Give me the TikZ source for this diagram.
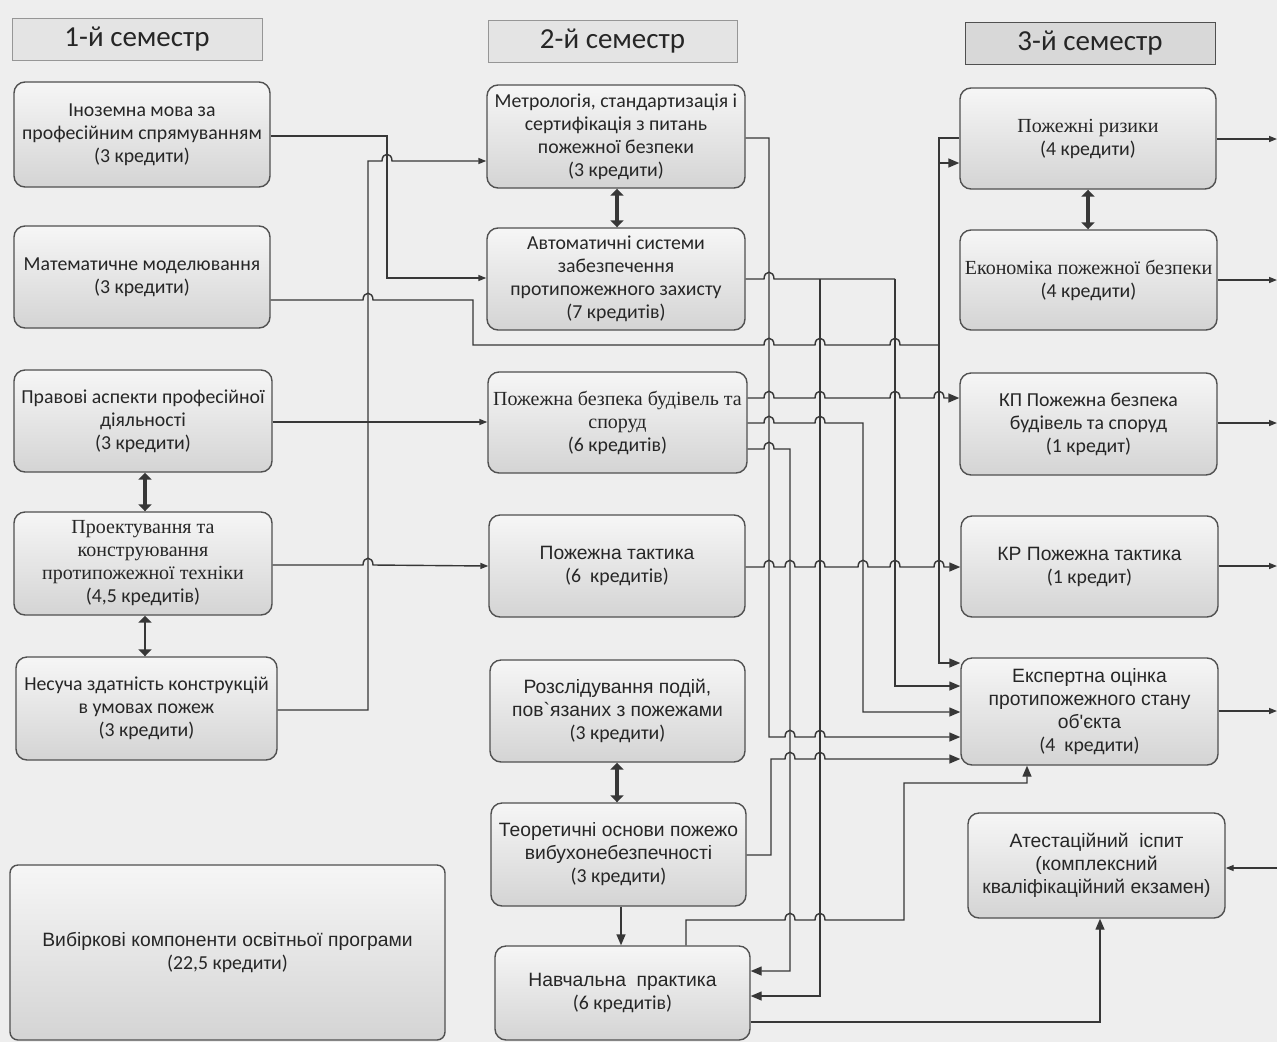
\documentclass[tikz,border=0pt]{standalone}
\usepackage{fontspec}
\setmainfont{Carlito}
\newfontfamily\tnr{Liberation Serif}
\newfontfamily\ari{Liberation Sans}
\usetikzlibrary{arrows.meta}
\definecolor{bg}{RGB}{238,238,238}
\definecolor{ink}{RGB}{55,55,55}
\definecolor{bord}{RGB}{80,80,80}
\definecolor{topc}{RGB}{246,246,246}
\definecolor{botc}{RGB}{212,212,212}
\definecolor{hdr}{RGB}{228,228,228}
\definecolor{hdrb}{RGB}{150,150,150}
\definecolor{hdrc}{RGB}{216,216,216}
\newcommand\TmF{\tnr\fontsize{20}{23}\selectfont}
\newcommand\ArF{\ari\fontsize{19.3}{23}\selectfont}
\newcommand\bx[7]{\node[#6, minimum width={#4-#2}, minimum height={#5-#3}] (#1) at ({(#2+#4)/2},{(#3+#5)/2}) {#7};}
\tikzset{
  boxst/.style={draw=bord, line width=1.4pt, rounded corners=11pt, top color=topc, bottom color=botc, align=center, inner sep=2pt, font=\fontsize{19.8}{23}\selectfont, text=black!85},
  hdrst/.style={draw=hdrb, line width=1pt, fill=hdr, font=\fontsize{29}{32}\selectfont, text=black!85},
  ln/.style={draw=ink, line width=1.4pt},
  ar/.style={-{Triangle[length=11pt,width=9pt]}},
  ars/.style={-{Triangle[length=8pt,width=6pt]}},
  arL/.style={-{Triangle[length=11pt,width=9pt]}},
  dbl/.style={draw=ink, line width=3.5pt, {Triangle[length=7pt,width=13pt]}-{Triangle[length=7pt,width=13pt]}},
  hop/.style args={#1/#2}{insert path={-- (#1-5,#2) .. controls (#1-5,#2-9) and (#1+5,#2-9) .. (#1+5,#2)}}
}
\begin{document}
\begin{tikzpicture}[x=1pt,y=-1pt]
\useasboundingbox (0,0) rectangle (1277,1042);
\fill[bg] (0,0) rectangle (1277,1042);
% headers
\bx{h1}{12}{18}{262}{60}{hdrst}{1-й семестр}
\bx{h2}{488}{20}{737}{62}{hdrst}{2-й семестр}
\bx{h3}{965}{22}{1215}{64}{hdrst,fill=hdrc,draw=bord}{3-й семестр}
% column 1
\bx{a1}{14}{82}{270}{187}{boxst}{Іноземна мова за\\ професійним спрямуванням\\ (3 кредити)}
\bx{a2}{14}{226}{270}{328}{boxst}{Математичне моделювання\\ (3 кредити)}
\bx{a3}{14}{370}{272}{472}{boxst}{Правові аспекти професійної\\ діяльності\\ (3 кредити)}
\bx{a4}{14}{512}{272}{615}{boxst}{{\TmF Проектування та}\\ {\TmF конструювання}\\ {\TmF протипожежної техніки}\\ (4,5 кредитів)}
\bx{a5}{16}{657}{277}{760}{boxst}{Несуча здатність конструкцій\\ в умовах пожеж\\ (3 кредити)}
\bx{a6}{10}{865}{445}{1040}{boxst,rounded corners=8pt}{{\ArF Вибіркові компоненти освітньої програми}\\ (22,5 кредити)}
% column 2
\bx{b1}{487}{85}{745}{188}{boxst}{Метрологія, стандартизація і\\ сертифікація з питань\\ пожежної безпеки\\ (3 кредити)}
\bx{b2}{487}{228}{745}{330}{boxst}{Автоматичні системи\\ забезпечення\\ протипожежного захисту\\ (7 кредитів)}
\bx{b3}{488}{372}{747}{473}{boxst}{{\TmF Пожежна безпека будівель та}\\ {\TmF споруд}\\ (6 кредитів)}
\bx{b4}{489}{515}{745}{617}{boxst}{{\ArF Пожежна тактика}\\ (6\ \ кредитів)}
\bx{b5}{490}{660}{745}{762}{boxst}{{\ArF Розслідування подій,}\\ {\ArF пов`язаних з пожежами}\\ (3 кредити)}
\bx{b6}{491}{803}{746}{906}{boxst}{{\ArF Теоретичні основи пожежо}\\ {\ArF вибухонебезпечності}\\ (3 кредити)}
\bx{b7}{495}{946}{750}{1040}{boxst}{{\ArF Навчальна\ \ практика}\\ (6 кредитів)}
% column 3
\bx{c1}{960}{88}{1216}{189}{boxst}{{\TmF Пожежні ризики}\\ (4 кредити)}
\bx{c2}{960}{230}{1217}{330}{boxst}{{\TmF Економіка пожежної безпеки}\\ (4 кредити)}
\bx{c3}{960}{373}{1217}{475}{boxst}{КП Пожежна безпека\\ будівель та споруд\\ (1 кредит)}
\bx{c4}{961}{516}{1218}{617}{boxst}{{\ArF КР Пожежна тактика}\\ (1 кредит)}
\bx{c5}{961}{658}{1218}{765}{boxst}{{\ArF Експертна оцінка}\\ {\ArF протипожежного стану}\\ {\ArF об'єкта}\\ (4\ \ кредити)}
\bx{c6}{968}{813}{1225}{918}{boxst}{{\ArF Атестаційний\ \ іспит}\\ {\ArF (комплексний}\\ {\ArF кваліфікаційний екзамен)}}
% junctions and free ends
\coordinate (j1) at (939,345);
\coordinate (r1) at (1277,139);
\coordinate (r2) at (1277,280);
\coordinate (r3) at (1277,423);
\coordinate (r4) at (1277,566);
\coordinate (r5) at (1277,711);
\coordinate (r6) at (1277,868);
% column 1 -> column 2
\draw[ln,ars] (a1.east |- 0,136) -- (387,136) -- (387,278) -- (b2.west |- 0,278);
\draw[ln,ars] (a5.east |- 0,710) -- (368,710) -- (368,161) [hop=387/161] -- (b1.west |- 0,161);
\draw[ln] (a2.east |- 0,300) [hop=368/300] -- (473,300) -- (473,345) [hop=769/345] [hop=820/345] [hop=895/345] -- (j1);
\draw[ln,ars] (a3.east |- 0,422) -- (b3.west |- 0,422);
\draw[ln,ars] (a4.east |- 0,565) [hop=368/565] -- (b4.west |- 0,566);
% to Пожежні ризики and Експертна
\draw[ln] (c1.west |- 0,138) -- (939,138) -- (j1);
\draw[ln,ar] (j1) -- (939,163) -- (c1.west |- 0,163);
\draw[ln,ar] (j1) -- (939,663) -- (c5.west |- 0,663);
% Метрологія
\draw[ln,ar] (b1.east |- 0,138) -- (769,138) -- (769,737) [hop=790/737] [hop=820/737] -- (c5.west |- 0,737);
% Автоматичні
\draw[ln] (b2.east |- 0,279) [hop=769/279] -- (895,279);
\draw[ln,arL] (820,279) -- (820,996) -- (b7.east |- 0,996);
\draw[ln,ar] (895,279) -- (895,686) -- (c5.west |- 0,686);
% Пожежна безпека будівель
\draw[ln,ar] (b3.east |- 0,398) [hop=769/398] [hop=820/398] [hop=895/398] [hop=939/398] -- (c3.west |- 0,398);
\draw[ln,ar] (b3.east |- 0,423) [hop=769/423] [hop=820/423] -- (863,423) -- (863,712) -- (c5.west |- 0,712);
\draw[ln,arL] (b3.east |- 0,449) [hop=769/449] -- (790,449) -- (790,971) -- (b7.east |- 0,971);
% Пожежна тактика
\draw[ln,ar] (b4.east |- 0,567) [hop=769/567] [hop=790/567] [hop=820/567] [hop=863/567] [hop=895/567] [hop=939/567] -- (c4.west |- 0,567);
% Теоретичні
\draw[ln,ar] (b6.east |- 0,855) -- (771,855) -- (771,759) [hop=790/759] [hop=820/759] -- (c5.west |- 0,759);
\draw[ln,ar] (b6.south -| 621,0) -- (b7.north -| 621,0);
% Навчальна практика
\draw[ln,ar] (b7.north -| 686,0) -- (686,920) [hop=790/920] [hop=820/920] -- (904,920) -- (904,783) -- (1027,783) -- (c5.south -| 1027,0);
\draw[ln,ar] (b7.east |- 0,1022) -- (1100,1022) -- (c6.south -| 1100,0);
% double arrows
\draw[dbl] (a3.south -| 145,0) -- (a4.north -| 145,0);
\draw[dbl,line width=2.5pt] (a4.south -| 145,0) -- (a5.north -| 145,0);
\draw[dbl] (b1.south -| 617,0) -- (b2.north -| 617,0);
\draw[dbl] (b5.south -| 617,0) -- (b6.north -| 617,0);
\draw[dbl] (c1.south -| 1088,0) -- (c2.north -| 1088,0);
% right edge
\draw[ln,ars] (c1.east |- 0,139) -- (r1);
\draw[ln,ars] (c2.east |- 0,280) -- (r2);
\draw[ln,ars] (c3.east |- 0,423) -- (r3);
\draw[ln,ars] (c4.east |- 0,566) -- (r4);
\draw[ln,ars] (c5.east |- 0,711) -- (r5);
\draw[ln,ars] (r6) -- (c6.east |- 0,868);
\end{tikzpicture}
\end{document}
